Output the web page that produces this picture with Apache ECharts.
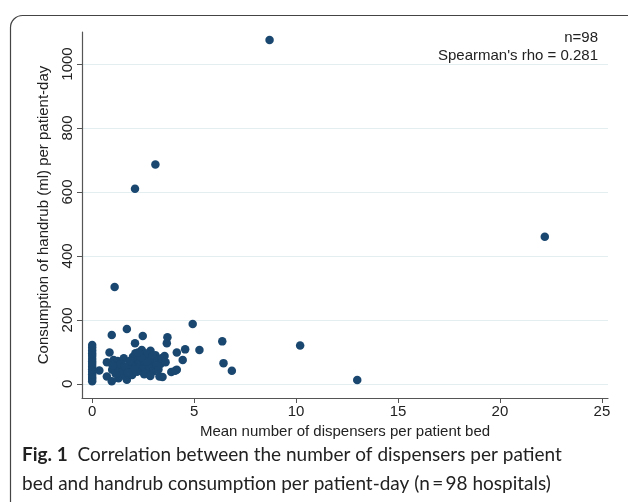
<!DOCTYPE html>
<html><head><meta charset="utf-8">
<script src="https://cdn.jsdelivr.net/npm/echarts@6/dist/echarts.min.js"></script>
<style>html,body{margin:0;padding:0;background:#fff}#c{width:628px;height:502px}</style>
</head><body><div id="c"></div>
<script>
// Data
const zeroDispenserY = [8, 15, 22, 30, 38, 46, 54, 62, 70, 78, 87, 95, 104, 113, 122];
const dispensers = [8.7, 3.1, 2.1, 22.2, 1.1, 10.2, 13.0,
  0.96, 1.70, 2.48, 4.93, 2.10, 2.43, 2.86, 3.69, 3.66, 4.56, 5.26, 4.15, 3.55, 4.44,
  6.38, 6.44, 6.85, 4.15, 3.88, 3.30, 3.45, 0.35, 0.72, 0.72, 0.96, 1.29, 1.70, 1.05,
  0.85, 1.25, 1.55, 1.31, 0.98, 1.80, 2.12, 1.63, 1.96, 1.47, 2.12, 3.04, 2.68, 4.07,
  2.00, 2.20, 2.35, 2.50, 2.60, 2.75, 2.90, 3.10, 3.20, 3.35, 2.30, 2.45, 2.55, 2.80,
  3.00, 3.15, 2.20, 1.90, 1.85, 2.65, 2.95, 3.40, 1.40, 1.15, 2.05, 2.70, 2.40, 3.60,
  1.60, 2.25, 1.00, 3.25, 2.85, 1.75];
const consumption = [1075, 686, 610, 460, 303, 120, 12,
  153, 172, 150, 187, 127, 106, 104, 146, 127, 108, 106, 98, 87, 75,
  133, 65, 41, 44, 37, 23, 22, 42, 68, 23, 8, 18, 13, 75,
  98, 72, 80, 54, 44, 49, 64, 23, 28, 38, 96, 54, 38, 41,
  85, 78, 70, 88, 62, 80, 70, 90, 76, 62, 50, 45, 30, 55,
  40, 58, 38, 60, 72, 95, 88, 80, 62, 32, 45, 70, 82, 68,
  55, 98, 58, 45, 25, 35];
const xTicks = [0, 5, 10, 15, 20, 25];
const yTicks = [0, 200, 400, 600, 800, 1000];
const annotations = ["n=98", "Spearman's rho = 0.281"];

const points = zeroDispenserY.map(v => [0, v]).concat(dispensers.map((x, i) => [x, consumption[i]]));

const chart = echarts.init(document.getElementById('c'), null, {renderer: 'canvas'});
const axisFont = {fontFamily: 'Liberation Sans, Arial, sans-serif', fontSize: 15, color: '#222'};
chart.setOption({
  animation: false,
  backgroundColor: '#fff',
  grid: {left: 82, right: 20, top: 32, bottom: 104, containLabel: false},
  xAxis: {
    type: 'value', min: -0.5, max: 25.3,
    axisLine: {onZero: false, lineStyle: {color: '#555', width: 1.2}},
    axisTick: {show: true, length: 5, customValues: xTicks, lineStyle: {color: '#555'}},
    axisLabel: Object.assign({customValues: xTicks, margin: 6, formatter: v => String(v)}, axisFont),
    splitLine: {show: false},
    name: 'Mean number of dispensers per patient bed',
    nameLocation: 'middle', nameGap: 21,
    nameTextStyle: axisFont
  },
  yAxis: {
    type: 'value', min: -44, max: 1100,
    axisLine: {show: true, onZero: false, lineStyle: {color: '#555', width: 1.2}},
    axisTick: {show: true, length: 5, customValues: yTicks, lineStyle: {color: '#555'}},
    axisLabel: Object.assign({customValues: yTicks, rotate: 90, margin: 7, formatter: v => String(v)}, axisFont),
    splitLine: {show: true, lineStyle: {color: '#e3eef1', width: 1}},
    name: 'Consumption of handrub (ml) per patient-day',
    nameLocation: 'middle', nameGap: 31, nameRotate: 90,
    nameTextStyle: axisFont
  },
  series: [{
    type: 'scatter',
    data: points,
    symbolSize: 8.5,
    itemStyle: {color: '#1a476f', opacity: 1}
  }],
  graphic: [
    {type: 'rect', shape: {x: 10.5, y: 15.5, width: 660, height: 540, r: 12},
     style: {fill: 'none', stroke: '#444', lineWidth: 1.2}, z: 10},
    {type: 'text', right: 30, top: 30,
     style: {text: annotations[0], font: '15px Liberation Sans, Arial, sans-serif', fill: '#222', textAlign: 'right'}},
    {type: 'text', right: 30, top: 48,
     style: {text: annotations[1], font: '15px Liberation Sans, Arial, sans-serif', fill: '#222', textAlign: 'right'}},
    {type: 'text', left: 22, top: 440,
     style: {
       text: '{b|Fig. 1}  Correlation between the number of dispensers per patient\nbed and handrub consumption per patient-day (n\u2009=\u200998 hospitals)',
       font: '19px Lato, sans-serif', fill: '#222', lineHeight: 29,
       rich: {b: {font: 'bold 19px Lato, sans-serif', fill: '#222'}}
     }}
  ]
});
</script></body></html>
